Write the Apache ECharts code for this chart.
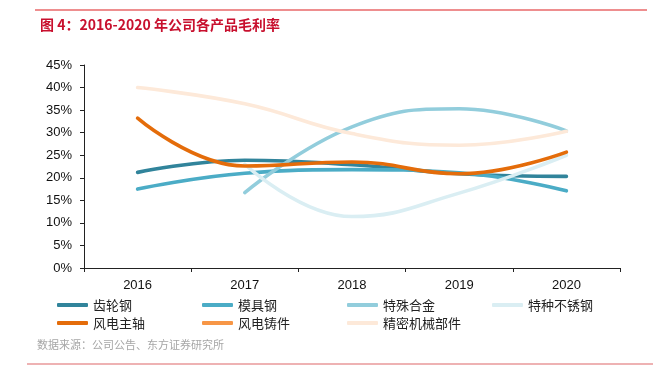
<!DOCTYPE html>
<html>
<head>
<meta charset="utf-8">
<script src="https://cdn.jsdelivr.net/npm/echarts@6/dist/echarts.min.js"></script>
<style>html,body{margin:0;padding:0;background:#fff;}#c{width:662px;height:372px;}</style>
</head>
<body>
<div id="c"></div>
<script>
var categories = ['2016', '2017', '2018', '2019', '2020'];
var seriesNames = ['齿轮钢', '模具钢', '特殊合金', '特种不锈钢', '风电主轴', '风电铸件', '精密机械部件'];
var gearSteel = [21.2, 23.9, 22.9, 20.9, 20.3];
var dieSteel = [17.5, 21.0, 21.8, 21.1, 17.1];
var specialAlloy = [null, 16.7, 31.3, 35.3, 30.4];
var stainless = [null, 23.0, 11.4, 16.6, 25.0];
var windShaft = [33.2, 22.6, 23.5, 20.9, 25.7];
var windCasting = [null, null, null, null, null];
var precisionParts = [40.0, 36.4, 29.8, 27.2, 30.3];
var yTicks = [0, 5, 10, 15, 20, 25, 30, 35, 40, 45];

var colors = ['#31849B', '#4BACC6', '#92CDDC', '#DAEEF3', '#E46C0A', '#F79646', '#FDE9D9'];
var dataList = [gearSteel, dieSteel, specialAlloy, stainless, windShaft, windCasting, precisionParts];
var font = '"Noto Sans CJK SC", "Noto Sans", sans-serif';

var chart = echarts.init(document.getElementById('c'), null, {renderer: 'canvas'});
var series = seriesNames.map(function (n, i) {
  return {
    name: n,
    type: 'line',
    data: dataList[i],
    smooth: 0.45,
    showSymbol: false,
    symbol: 'none',
    connectNulls: false,
    lineStyle: {width: 3.6, color: colors[i], cap: 'round'},
    itemStyle: {color: colors[i]},
    emphasis: {disabled: true},
    z: 2
  };
});

chart.setOption({
  animation: false,
  color: colors,
  title: {
    text: '图 4：2016-2020 年公司各产品毛利率',
    left: 35, top: 13,
    textStyle: {fontFamily: font, fontSize: 14, fontWeight: 'bold', color: '#C8102E'}
  },
  graphic: [
    {type: 'line', shape: {x1: 35, y1: 10, x2: 647, y2: 10}, style: {stroke: '#E8686A', lineWidth: 1.5}},
    {type: 'line', shape: {x1: 27, y1: 364, x2: 653, y2: 364}, style: {stroke: '#E8999A', lineWidth: 1.5}},
    {type: 'text', left: 37, top: 339, style: {text: '数据来源：公司公告、东方证券研究所', font: '11px ' + font, fill: '#A6A6A6'}}
  ],
  grid: {left: 84, right: 42, top: 65, bottom: 104, containLabel: false},
  legend: {
    left: 57, top: 298, width: 600, padding: 0,
    itemWidth: 31, itemHeight: 4, itemGap: 4,
    icon: 'roundRect',
    data: seriesNames,
    textStyle: {fontFamily: font, fontSize: 13, color: '#222', width: 105, lineHeight: 14},
    selectedMode: false
  },
  xAxis: {
    type: 'category',
    data: categories,
    boundaryGap: true,
    axisLine: {lineStyle: {color: '#222', width: 1}},
    axisTick: {show: true, length: 4, lineStyle: {color: '#222'}},
    axisLabel: {fontFamily: 'Liberation Sans, Arial, sans-serif', fontSize: 13, color: '#111', margin: 11}
  },
  yAxis: {
    type: 'value',
    min: 0, max: 45, interval: 5,
    axisLine: {show: true, lineStyle: {color: '#222', width: 1}},
    axisTick: {show: true, length: 4, lineStyle: {color: '#222'}},
    splitLine: {show: false},
    axisLabel: {
      fontFamily: 'Liberation Sans, Arial, sans-serif', fontSize: 13, color: '#111', margin: 12,
      formatter: function (v) { return yTicks.indexOf(v) >= 0 ? v + '%' : ''; }
    }
  },
  series: series
});
</script>
</body>
</html>
